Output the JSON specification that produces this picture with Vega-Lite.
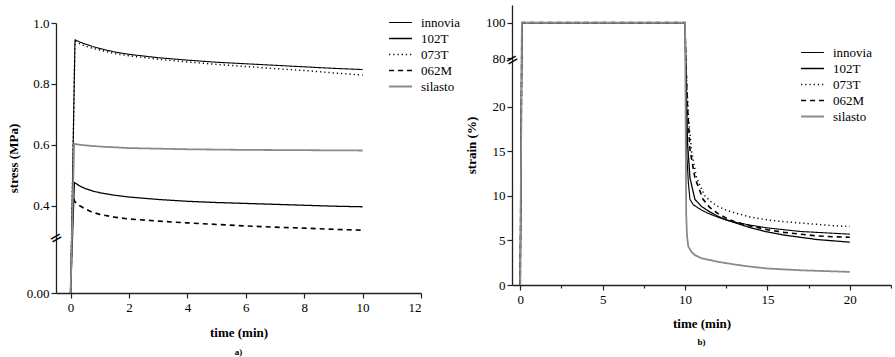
{
"$schema": "https://vega.github.io/schema/vega-lite/v6.json",
"padding": {"left": 7, "top": 5, "right": 0, "bottom": 0},
"autosize": {"type": "pad"},
"background": "white",
"bounds": "flush",
"spacing": 91,
"config": {
  "font": "Liberation Serif",
  "view": {"stroke": null},
  "axis": {"labelFont": "Liberation Serif", "labelFontSize": 13, "labelColor": "#000", "titleFont": "Liberation Serif", "titleFontSize": 13, "titleFontWeight": "bold", "titleColor": "#000", "domainColor": "#222", "domainWidth": 1.3, "tickColor": "#222", "tickWidth": 1.2, "grid": false, "labelPadding": 2},
  "legend": {"orient": "none", "title": null, "symbolType": "M-2.5,0H2.5", "symbolSize": 84, "labelFont": "Liberation Serif", "labelFontSize": 13, "labelColor": "#000", "rowPadding": 2, "padding": 0, "labelOffset": 14},
  "line": {"strokeJoin": "round"}
},
"resolve": {"scale": {"color": "independent", "strokeDash": "independent", "strokeWidth": "independent", "x": "independent", "y": "independent"}, "legend": {"color": "independent"}},
"datasets": {
"stress": [
{"s":"innovia","t":0,"v":0},{"s":"innovia","t":0.15,"v":0.945},{"s":"innovia","t":0.3,"v":0.938},{"s":"innovia","t":0.5,"v":0.931},{"s":"innovia","t":0.75,"v":0.923},{"s":"innovia","t":1,"v":0.916},{"s":"innovia","t":1.5,"v":0.905},{"s":"innovia","t":2,"v":0.897},{"s":"innovia","t":3,"v":0.886},{"s":"innovia","t":4,"v":0.878},{"s":"innovia","t":5,"v":0.871},{"s":"innovia","t":6,"v":0.866},{"s":"innovia","t":7,"v":0.861},{"s":"innovia","t":8,"v":0.856},{"s":"innovia","t":9,"v":0.851},{"s":"innovia","t":10,"v":0.847},
{"s":"102T","t":0,"v":0},{"s":"102T","t":0.13,"v":0.476},{"s":"102T","t":0.3,"v":0.465},{"s":"102T","t":0.5,"v":0.456},{"s":"102T","t":0.75,"v":0.448},{"s":"102T","t":1,"v":0.442},{"s":"102T","t":1.5,"v":0.434},{"s":"102T","t":2,"v":0.428},{"s":"102T","t":3,"v":0.42},{"s":"102T","t":4,"v":0.414},{"s":"102T","t":5,"v":0.41},{"s":"102T","t":6,"v":0.407},{"s":"102T","t":7,"v":0.404},{"s":"102T","t":8,"v":0.401},{"s":"102T","t":9,"v":0.398},{"s":"102T","t":10,"v":0.396},
{"s":"073T","t":0,"v":0},{"s":"073T","t":0.15,"v":0.94},{"s":"073T","t":0.3,"v":0.932},{"s":"073T","t":0.5,"v":0.924},{"s":"073T","t":0.75,"v":0.917},{"s":"073T","t":1,"v":0.911},{"s":"073T","t":1.5,"v":0.9},{"s":"073T","t":2,"v":0.892},{"s":"073T","t":3,"v":0.881},{"s":"073T","t":4,"v":0.872},{"s":"073T","t":5,"v":0.864},{"s":"073T","t":6,"v":0.857},{"s":"073T","t":7,"v":0.85},{"s":"073T","t":8,"v":0.844},{"s":"073T","t":9,"v":0.836},{"s":"073T","t":10,"v":0.829},
{"s":"062M","t":0,"v":0},{"s":"062M","t":0.08,"v":0.43},{"s":"062M","t":0.15,"v":0.412},{"s":"062M","t":0.3,"v":0.4},{"s":"062M","t":0.5,"v":0.389},{"s":"062M","t":0.75,"v":0.378},{"s":"062M","t":1,"v":0.371},{"s":"062M","t":1.5,"v":0.362},{"s":"062M","t":2,"v":0.356},{"s":"062M","t":3,"v":0.349},{"s":"062M","t":4,"v":0.343},{"s":"062M","t":5,"v":0.338},{"s":"062M","t":6,"v":0.333},{"s":"062M","t":7,"v":0.329},{"s":"062M","t":8,"v":0.326},{"s":"062M","t":9,"v":0.322},{"s":"062M","t":10,"v":0.319},
{"s":"silasto","t":0,"v":0},{"s":"silasto","t":0.12,"v":0.603},{"s":"silasto","t":0.3,"v":0.6},{"s":"silasto","t":0.6,"v":0.597},{"s":"silasto","t":1,"v":0.594},{"s":"silasto","t":2,"v":0.589},{"s":"silasto","t":3,"v":0.587},{"s":"silasto","t":4,"v":0.585},{"s":"silasto","t":6,"v":0.583},{"s":"silasto","t":8,"v":0.582},{"s":"silasto","t":10,"v":0.581}
],
"strain": [
{"s":"innovia","t":0,"v":0},{"s":"innovia","t":0.1,"v":100},{"s":"innovia","t":10,"v":100},{"s":"innovia","t":10.03,"v":25},{"s":"innovia","t":10.1,"v":15},{"s":"innovia","t":10.2,"v":11.5},{"s":"innovia","t":10.3,"v":9.6},{"s":"innovia","t":10.5,"v":9.0},{"s":"innovia","t":11,"v":8.4},{"s":"innovia","t":11.5,"v":7.95},{"s":"innovia","t":12,"v":7.6},{"s":"innovia","t":12.5,"v":7.3},{"s":"innovia","t":13,"v":7.05},{"s":"innovia","t":14,"v":6.7},{"s":"innovia","t":15,"v":6.4},{"s":"innovia","t":16,"v":6.2},{"s":"innovia","t":17,"v":6.0},{"s":"innovia","t":18,"v":5.9},{"s":"innovia","t":19,"v":5.8},{"s":"innovia","t":20,"v":5.7},
{"s":"102T","t":0,"v":0},{"s":"102T","t":0.1,"v":100},{"s":"102T","t":10,"v":100},{"s":"102T","t":10.05,"v":25},{"s":"102T","t":10.15,"v":16},{"s":"102T","t":10.3,"v":12},{"s":"102T","t":10.6,"v":9.6},{"s":"102T","t":11,"v":8.8},{"s":"102T","t":11.5,"v":8.2},{"s":"102T","t":12,"v":7.7},{"s":"102T","t":12.5,"v":7.3},{"s":"102T","t":13,"v":7.0},{"s":"102T","t":14,"v":6.4},{"s":"102T","t":15,"v":5.95},{"s":"102T","t":16,"v":5.6},{"s":"102T","t":17,"v":5.35},{"s":"102T","t":18,"v":5.1},{"s":"102T","t":19,"v":4.95},{"s":"102T","t":20,"v":4.8},
{"s":"073T","t":0,"v":0},{"s":"073T","t":0.1,"v":100},{"s":"073T","t":10,"v":100},{"s":"073T","t":10.05,"v":25},{"s":"073T","t":10.2,"v":19},{"s":"073T","t":10.4,"v":15},{"s":"073T","t":10.7,"v":12},{"s":"073T","t":11.2,"v":10},{"s":"073T","t":11.6,"v":9.3},{"s":"073T","t":12,"v":8.8},{"s":"073T","t":12.5,"v":8.4},{"s":"073T","t":13,"v":8.1},{"s":"073T","t":14,"v":7.6},{"s":"073T","t":15,"v":7.3},{"s":"073T","t":16,"v":7.1},{"s":"073T","t":17,"v":6.95},{"s":"073T","t":18,"v":6.8},{"s":"073T","t":19,"v":6.65},{"s":"073T","t":20,"v":6.55},
{"s":"062M","t":0,"v":0},{"s":"062M","t":0.1,"v":100},{"s":"062M","t":10,"v":100},{"s":"062M","t":10.05,"v":25},{"s":"062M","t":10.15,"v":20},{"s":"062M","t":10.3,"v":15.2},{"s":"062M","t":10.6,"v":12},{"s":"062M","t":11.1,"v":9.6},{"s":"062M","t":11.5,"v":8.7},{"s":"062M","t":12,"v":8.0},{"s":"062M","t":12.5,"v":7.5},{"s":"062M","t":13,"v":7.1},{"s":"062M","t":14,"v":6.6},{"s":"062M","t":15,"v":6.2},{"s":"062M","t":16,"v":5.9},{"s":"062M","t":17,"v":5.7},{"s":"062M","t":18,"v":5.5},{"s":"062M","t":19,"v":5.4},{"s":"062M","t":20,"v":5.35},
{"s":"silasto","t":0,"v":0},{"s":"silasto","t":0.1,"v":100},{"s":"silasto","t":10,"v":100},{"s":"silasto","t":10.02,"v":25},{"s":"silasto","t":10.07,"v":8},{"s":"silasto","t":10.12,"v":5.5},{"s":"silasto","t":10.2,"v":4.3},{"s":"silasto","t":10.4,"v":3.7},{"s":"silasto","t":10.6,"v":3.35},{"s":"silasto","t":11,"v":3.0},{"s":"silasto","t":12,"v":2.6},{"s":"silasto","t":13,"v":2.3},{"s":"silasto","t":14,"v":2.05},{"s":"silasto","t":15,"v":1.85},{"s":"silasto","t":17,"v":1.65},{"s":"silasto","t":20,"v":1.47}
]
},
"hconcat": [
{
  "width": 365, "height": 288,
  "title": {"text": "a)", "orient": "bottom", "fontSize": 9, "fontWeight": "bold", "font": "Liberation Serif", "offset": 9, "anchor": "middle", "color": "#000"},
  "layer": [
    {"data": {"name": "stress"}, "mark": {"type": "line"},
     "encoding": {
       "x": {"field": "t", "type": "quantitative", "scale": {"domain": [-0.5, 12], "nice": false, "zero": false},
             "axis": {"title": "time (min)", "values": [0,1,2,3,4,5,6,7,8,9,10,11,12], "labelExpr": "datum.value % 2 == 0 ? datum.label : ''", "tickSize": {"condition": {"test": "datum.value % 2 != 0", "value": 3}, "value": 5}, "labelPadding": 3, "titlePadding": 12}},
       "y": {"field": "v", "type": "quantitative", "scale": {"domain": [0, 0.1, 0.3, 1.0], "range": [288, 235, 231, 18], "nice": false, "zero": false},
             "axis": {"title": "stress (MPa)", "values": [0, 0.05, 0.4, 0.5, 0.6, 0.7, 0.8, 0.9, 1.0], "labelExpr": "datum.value == 0 ? '0.00' : (round(datum.value*10) % 2 == 0 ? format(datum.value, '.1f') : '')", "tickSize": {"condition": {"test": "round(datum.value*10) % 2 == 1", "value": 3}, "value": 5}, "titlePadding": 6}},
       "color": {"field": "s", "type": "nominal", "scale": {"domain": ["innovia","102T","073T","062M","silasto"], "range": ["#000","#000","#000","#000","#8a8a8a"]},
                 "legend": {"legendX": 338, "legendY": 11, "encode": {"symbols": {"update": {"strokeDash": {"signal": "datum.value == '073T' ? [1.2,3] : datum.value == '062M' ? [5,4] : [1,0]"}, "strokeWidth": {"signal": "datum.value == '102T' ? 1.8 : datum.value == 'innovia' ? 1.1 : 1.3"}}}}}},
       "strokeDash": {"field": "s", "type": "nominal", "scale": {"domain": ["innovia","102T","073T","062M","silasto"], "range": [[1,0],[1,0],[1.2,3],[5,4],[1,0]]}, "legend": null},
       "strokeWidth": {"field": "s", "type": "nominal", "scale": {"domain": ["innovia","102T","073T","062M","silasto"], "range": [1.1, 1.8, 1.2, 1.2, 1.3]}, "legend": null}
     }},
    {"data": {"values": [{"t": -0.5, "v": 0.2}]}, "mark": {"type": "text", "text": "=", "angle": -30, "fontSize": 16, "font": "DejaVu Sans", "color": "#000"},
     "encoding": {"x": {"field": "t", "type": "quantitative"}, "y": {"field": "v", "type": "quantitative"}}}
  ]
},
{
  "width": 379, "height": 280,
  "title": {"text": "b)", "orient": "bottom", "fontSize": 9, "fontWeight": "bold", "font": "Liberation Serif", "offset": 8, "anchor": "middle", "color": "#000"},
  "layer": [
    {"data": {"name": "strain"}, "mark": {"type": "line"},
     "encoding": {
       "x": {"field": "t", "type": "quantitative", "scale": {"domain": [-0.5, 22.5], "nice": false, "zero": false},
             "axis": {"title": "time (min)", "values": [0,2.5,5,7.5,10,12.5,15,17.5,20,22.5], "labelExpr": "datum.value % 5 == 0 ? datum.label : ''", "tickSize": {"condition": {"test": "datum.value % 5 != 0", "value": 3}, "value": 5}, "labelPadding": 3, "titlePadding": 11}},
       "y": {"field": "v", "type": "quantitative", "scale": {"domain": [0, 25, 80, 110], "range": [280, 57, 53, 0], "nice": false, "zero": false},
             "axis": {"title": "strain (%)", "values": [0,2.5,5,7.5,10,12.5,15,17.5,20,22.5,80,90,100,110], "labelExpr": "indexof([0,5,10,15,20,80,100], datum.value) >= 0 ? datum.label : ''", "tickSize": {"condition": {"test": "indexof([0,5,10,15,20,80,100], datum.value) < 0", "value": 3}, "value": 5}, "titlePadding": 7}},
       "color": {"field": "s", "type": "nominal", "scale": {"domain": ["innovia","102T","073T","062M","silasto"], "range": ["#000","#000","#000","#000","#8a8a8a"]},
                 "legend": {"legendX": 294, "legendY": 41, "encode": {"symbols": {"update": {"strokeDash": {"signal": "datum.value == '073T' ? [1.2,3] : datum.value == '062M' ? [5,4] : [1,0]"}, "strokeWidth": {"signal": "datum.value == '102T' ? 1.8 : datum.value == 'innovia' ? 1.1 : 1.3"}}}}}},
       "strokeDash": {"field": "s", "type": "nominal", "scale": {"domain": ["innovia","102T","073T","062M","silasto"], "range": [[1,0],[1,0],[1.2,3],[5,4],[1,0]]}, "legend": null},
       "strokeWidth": {"field": "s", "type": "nominal", "scale": {"domain": ["innovia","102T","073T","062M","silasto"], "range": [1.1, 1.8, 1.2, 1.2, 1.3]}, "legend": null}
     }},
    {"data": {"values": [{"t": -0.5, "v": 50}]}, "mark": {"type": "text", "text": "=", "angle": -30, "fontSize": 16, "font": "DejaVu Sans", "color": "#000"},
     "encoding": {"x": {"field": "t", "type": "quantitative"}, "y": {"field": "v", "type": "quantitative"}}}
  ]
}
]
}
